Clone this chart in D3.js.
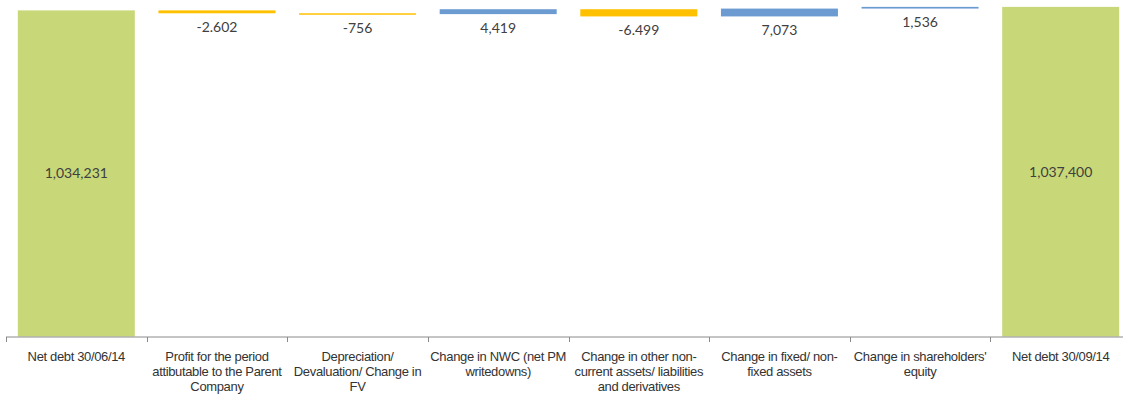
<!DOCTYPE html>
<html>
<head>
<meta charset="utf-8">
<script src="https://cdn.jsdelivr.net/npm/d3@7/dist/d3.min.js"></script>
<style>
  html, body { margin: 0; padding: 0; background: #fff; }
  svg { display: block; }
</style>
</head>
<body>
<svg id="chart" width="1123" height="394"></svg>
<script>
// Net debt bridge, 30/06/14 -> 30/09/14 (thousand euro)
const categories = [
  "Net debt 30/06/14",
  "Profit for the period|attibutable to the Parent|Company",
  "Depreciation/|Devaluation/ Change in|FV",
  "Change in NWC (net PM|writedowns)",
  "Change in other non-|current assets/ liabilities|and derivatives",
  "Change in fixed/ non-|fixed assets",
  "Change in shareholders'|equity",
  "Net debt 30/09/14"
];
const kinds = ["total", "delta", "delta", "delta", "delta", "delta", "delta", "total"];
const values = [1034231, -2602, -756, 4419, -6499, 7073, 1536, 1037400];
const valueLabels = ["1,034,231", "-2.602", "-756", "4,419", "-6.499", "7,073", "1,536", "1,037,400"];
const valueDomain = [740000, 1040000];

const colors = { total: "#C8D878", up: "#6C9BD2", down: "#FFC000" };

// running start/end of every step
let running = 0;
const steps = categories.map((c, i) => {
  let y0, y1;
  if (kinds[i] === "total") {
    y0 = valueDomain[0];
    y1 = values[i];
    running = values[i];
  } else {
    y0 = running;
    y1 = running + values[i];
    running = y1;
  }
  return { cat: c, kind: kinds[i], value: values[i], label: valueLabels[i], lo: Math.min(y0, y1), hi: Math.max(y0, y1) };
});

const svg = d3.select("#chart");
const baseY = 336.5;

const x = d3.scaleBand()
  .domain(categories)
  .range([6, 1131])
  .padding(0);

const y = d3.scaleLinear()
  .domain(valueDomain)
  .range([baseY, 4]);

const barInset = 0.084;
const barW = x.bandwidth() * (1 - 2 * barInset);

// bars
svg.append("g")
  .selectAll("rect")
  .data(steps)
  .join("rect")
  .attr("x", d => x(d.cat) + x.bandwidth() * barInset)
  .attr("width", barW)
  .attr("y", d => y(d.hi))
  .attr("height", d => Math.max(1.5, y(d.lo) - y(d.hi)))
  .attr("fill", d => d.kind === "total" ? colors.total : (d.value >= 0 ? colors.up : colors.down));

// value labels
svg.append("g")
  .selectAll("text")
  .data(steps)
  .join("text")
  .attr("x", d => x(d.cat) + x.bandwidth() / 2)
  .attr("y", d => d.kind === "total" ? (y(d.hi) + y(d.lo)) / 2 + 5 : y(d.lo) + 18.5)
  .attr("text-anchor", "middle")
  .attr("font-family", "Lato, 'Open Sans', sans-serif")
  .attr("font-size", 14)
  .attr("fill", "#404040")
  .text(d => d.label);

// category axis
const axis = svg.append("g").attr("stroke", "#8A8A8A").attr("stroke-width", 1);
axis.append("line")
  .attr("x1", x.range()[0]).attr("x2", x.range()[1])
  .attr("y1", baseY + 0.5).attr("y2", baseY + 0.5);
const bounds = categories.map(c => x(c)).concat([x.range()[1]]);
axis.selectAll("line.tick")
  .data(bounds)
  .join("line")
  .attr("class", "tick")
  .attr("x1", d => Math.round(d) + 0.5).attr("x2", d => Math.round(d) + 0.5)
  .attr("y1", baseY + 0.5).attr("y2", baseY + 5.5);

// category labels
const catText = svg.append("g")
  .selectAll("text")
  .data(categories)
  .join("text")
  .attr("x", d => x(d) + x.bandwidth() / 2)
  .attr("y", 361)
  .attr("text-anchor", "middle")
  .attr("font-family", "'Liberation Sans', Arial, sans-serif")
  .attr("font-size", 13)
  .attr("letter-spacing", "-0.35px")
  .attr("fill", "#333333");
catText.selectAll("tspan")
  .data(d => d.split("|"))
  .join("tspan")
  .attr("x", function () { return d3.select(this.parentNode).attr("x"); })
  .attr("dy", (d, i) => i === 0 ? 0 : 15.2)
  .text(d => d);
</script>
</body>
</html>
